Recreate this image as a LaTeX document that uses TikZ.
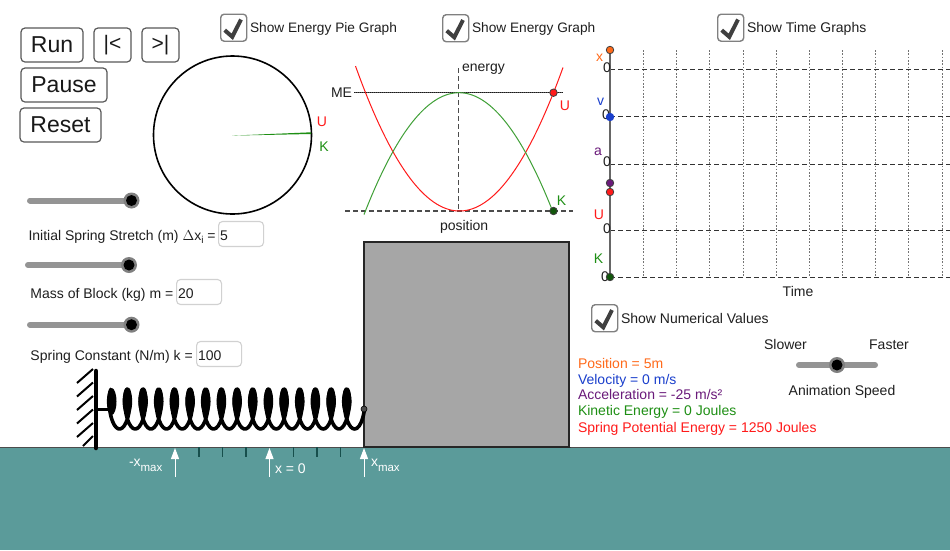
\documentclass[tikz,border=0pt]{standalone}
\usepackage{fontspec}
\setmainfont{Liberation Sans}
\usetikzlibrary{arrows.meta}
\definecolor{gnd}{HTML}{5B9B9A}
\definecolor{tickc}{HTML}{174F4C}
\definecolor{uRed}{HTML}{FF1A1A}
\definecolor{kGreen}{HTML}{1E8F14}
\definecolor{xOrange}{HTML}{FF6A1A}
\definecolor{vBlue}{HTML}{1A3FCC}
\definecolor{aPurple}{HTML}{6A1A7A}
\tikzset{
  txt/.style={inner sep=0pt,outer sep=0pt,text height=10pt,text depth=0pt,font=\fontsize{14}{16}\selectfont,text=black!88},
  lbl/.style={txt,anchor=west},
  btn/.style={draw=black!65,line width=1.2pt,rounded corners=4pt,inner sep=0pt,anchor=center,font=\fontsize{23}{26}\selectfont,text=black!90},
  chk/.style={draw=black!50,line width=1.4pt,rounded corners=3.5pt,fill=white,minimum width=26pt,minimum height=27pt,inner sep=0pt,anchor=north west},
  chkmark/.style={draw=black!75,line width=4pt,line join=miter},
  inbox/.style={draw=black!18,line width=1.1pt,rounded corners=4pt,minimum width=45pt,minimum height=25pt,inner sep=0pt,anchor=west},
  track/.style={draw=black!42,line width=6pt,line cap=round},
  knobh/.style={circle,fill=black!50,minimum size=16pt,inner sep=0pt},
  knob/.style={circle,fill=black,minimum size=11pt,inner sep=0pt},
  dotn/.style={circle,draw=black!75,line width=.8pt,minimum size=7.5pt,inner sep=0pt},
  dashl/.style={draw=black!80,line width=1pt,dash pattern=on 5pt off 3pt},
  dotl/.style={draw=black!55,line width=1pt,dash pattern=on 1.6pt off 1.7pt},
  arrw/.style={draw=white,line width=1pt,-{Triangle[length=11pt,width=8pt]}},
  val/.style={lbl},
  tk/.style={draw=tickc,line width=1.1pt},
  nar/.style={font=\fontsize{13.7}{16}\selectfont},
}
\newcommand{\checkmk}[2]{%
  \draw[chkmark] (#1+4.7,#2+16.7) -- (#1+12.3,#2+23.3) -- (#1+21,#2+6);}
\newcommand{\smax}{\raisebox{-5pt}{\fontsize{11.5}{12}\selectfont max}}
\begin{document}
\begin{tikzpicture}[x=1pt,y=-1pt]
\useasboundingbox (0,0) rectangle (950,550);
\fill[white] (0,0) rectangle (950,550);
% ground
\fill[gnd] (0,447) rectangle (950,550);
\draw[black!70,line width=.8pt] (0,447) -- (950,447);
% buttons
\node[btn,minimum width=62pt,minimum height=34pt] (run) at (52,45) {Run};
\node[btn,minimum width=37pt,minimum height=34pt,font=\fontsize{21}{24}\selectfont] (prev) at (112.5,45) {|<};
\node[btn,minimum width=37pt,minimum height=34pt,font=\fontsize{21}{24}\selectfont] (next) at (160.5,45) {>|};
\node[btn,minimum width=86pt,minimum height=34pt] (pause) at (64,85) {Pause};
\node[btn,minimum width=81pt,minimum height=34pt] (reset) at (60.5,125) {Reset};
% checkboxes
\node[chk] (c1) at (220,13.5) {}; \checkmk{220}{13.5}
\node[lbl,nar] (c1t) at (250,27) {Show Energy Pie Graph};
\node[chk] (c2) at (442,14) {}; \checkmk{442}{14}
\node[lbl,nar] (c2t) at (472,27.7) {Show Energy Graph};
\node[chk] (c3) at (717,13.5) {}; \checkmk{717}{13.5}
\node[lbl] (c3t) at (747,27) {Show Time Graphs};
\node[chk] (c4) at (591,304) {}; \checkmk{591}{304}
\node[lbl] (c4t) at (621,318) {Show Numerical Values};
% pie
\node[circle,draw=black,line width=1.6pt,minimum size=158pt,inner sep=0pt] (pie) at (232.5,135) {};
\fill[kGreen] (232,135.6) -- (311,132.3) -- (311,134) -- cycle;
\node[txt,text=uRed] (pieU) at (322,121.7) {U};
\node[txt,text=kGreen] (pieK) at (324,146.7) {K};
% sliders
\draw[track] (30,200.5) -- (131.5,200.5);
\node[knobh] (s1h) at (131.5,200.5) {}; \node[knob] (s1) at (131.5,200.5) {};
\draw[track] (28,265) -- (129,265);
\node[knobh] (s2h) at (129,265) {}; \node[knob] (s2) at (129,265) {};
\draw[track] (30,324.7) -- (131.5,324.7);
\node[knobh] (s3h) at (131.5,324.7) {}; \node[knob] (s3) at (131.5,324.7) {};
\draw[track] (799,365) -- (875,365);
\node[knobh] (s4h) at (837,365) {}; \node[knob] (s4) at (837,365) {};
% inputs
\node[lbl] (l1) at (28.5,235.7) {Initial Spring Stretch (m) $\Delta$x\raisebox{-3pt}{\fontsize{10}{10}\selectfont i} =};
\node[inbox] (b1) at (218,234) {}; \node[lbl] (b1t) at (220,235.7) {5};
\node[lbl] (l2) at (30.5,293) {Mass of Block (kg) m =};
\node[inbox] (b2) at (176,292) {}; \node[lbl] (b2t) at (178,293) {20};
\node[lbl] (l3) at (30.5,355) {Spring Constant (N/m) k =};
\node[inbox] (b3) at (196,354) {}; \node[lbl] (b3t) at (198,355) {100};
% energy graph
\draw[dashl,black!70,line width=1.1pt] (458.7,68) -- (458.7,211);
\draw[dashl,black!70,line width=1.1pt] (345,211) -- (573,211);
\draw[black!65,line width=1.1pt] (354,92.7) -- (563,92.7);
\draw[black!90,line width=.8pt,dash pattern=on 1pt off 1pt] (354,92.7) -- (563,92.7);
\draw[uRed,line width=1pt] plot[domain=355.5:563,samples=70] (\x,{211-0.0134*(\x-459.5)*(\x-459.5)});
\draw[kGreen!85!white,line width=1pt] plot[domain=364:553,samples=70] (\x,{92.7+0.0135*(\x-459)*(\x-459)});
\node[dotn,fill=uRed] (eU) at (553.5,92.7) {};
\node[dotn,fill=kGreen!60!black] (eK) at (553.5,211) {};
\node[txt,text=uRed] (eUt) at (565,105) {U};
\node[txt,text=kGreen] (eKt) at (561.5,200) {K};
\node[lbl] (en) at (462,66) {energy};
\node[lbl] (me) at (331,92) {ME};
\node[lbl] (po) at (440,225) {position};
% block
\draw[black!85,line width=2pt,fill=black!35] (364,242) rectangle (569,447);
\draw[black!85,line width=1.4pt,line cap=round] (364,447.5) -- (570,447.5);
% wall
\foreach \yy in {377,390.5,404,417.5,431}{
  \draw[black,line width=2pt] (77,\yy+6) -- (93,\yy-8);
}
\draw[black,line width=2pt] (83,446) -- (93,436);
\draw[black,line width=4.5pt,line cap=round] (96,371) -- (96,448);
\draw[black,line width=3pt] (96,409) -- (110,409);
% spring
\draw[black,line width=3.6pt,line join=round] plot[domain=0:15.75,samples=400,smooth]
  ({111.7+15.67*\x-6*sin(360*\x)},{409-20*cos(360*\x)});
\foreach \i in {0,...,15}{
  \fill[black] ({111.7+15.67*\i},401.5) ellipse [x radius=4.8pt,y radius=13.5pt];
}
\node[circle,fill=black!70,draw=black,line width=.6pt,minimum size=6pt,inner sep=0pt] (att) at (364,409) {};
% ticks
\foreach \xx in {199,222.7,246,293.3,317,340.7}{\draw[tk] (\xx,447) -- (\xx,457);}
% arrows
\coordinate (a1s) at (175,477); \coordinate (a1e) at (175,448);
\coordinate (a2s) at (269.5,477); \coordinate (a2e) at (269.5,448);
\coordinate (a3s) at (364,477); \coordinate (a3e) at (364,448);
\draw[arrw] (a1s) -- (a1e);
\draw[arrw] (a2s) -- (a2e);
\draw[arrw] (a3s) -- (a3e);
\node[lbl,text=white] (xm) at (129,461.5) {-x\smax};
\node[lbl,text=white] (x0) at (275,468.5) {x = 0};
\node[lbl,text=white] (xp) at (371,461.5) {x\smax};
% time graphs
\foreach \xx in {643.3,676.7,709.7,743,776,809,842.7,875.3,908.7,942}{
  \draw[dotl] (\xx,50) -- (\xx,277);
}
\foreach \yy in {69.3,116.7,164,230,277}{
  \draw[dashl] (610,\yy) -- (950,\yy);
}
\draw[black!60,line width=1.3pt] (610,50) -- (610,277);
\node[txt,anchor=east] (z1) at (611,67.7) {0};
\node[txt,anchor=east] (z2) at (610,114) {0};
\node[txt,anchor=east] (z3) at (611,161.7) {0};
\node[txt,anchor=east] (z4) at (611,228) {0};
\node[txt,anchor=east] (z5) at (609,276) {0};
\node[dotn,fill=xOrange] (dx) at (610,50) {};
\node[dotn,fill=vBlue,draw=vBlue] (dv) at (610,117) {};
\node[dotn,fill=aPurple] (da) at (610,183) {};
\node[dotn,fill=uRed] (dU) at (610,192) {};
\node[dotn,fill=kGreen!60!black] (dK) at (610,277) {};
\node[txt,text=xOrange] (tx) at (599.5,56) {x};
\node[txt,text=vBlue] (tv) at (600.5,100) {v};
\node[txt,text=aPurple] (ta) at (598,150) {a};
\node[txt,text=uRed] (tU) at (599,214) {U};
\node[txt,text=kGreen] (tK) at (598.5,258) {K};
\node[txt] (tT) at (798,291) {Time};
% numerical values
\node[val,text=xOrange] (n1) at (578,363) {Position = 5m};
\node[val,text=vBlue] (n2) at (578,379) {Velocity = 0 m/s};
\node[val,text=aPurple] (n3) at (578,394) {Acceleration = -25 m/s²};
\node[val,text=kGreen] (n4) at (578,410) {Kinetic Energy = 0 Joules};
\node[val,text=uRed] (n5) at (578,427) {Spring Potential Energy = 1250 Joules};
\node[txt] (sl) at (785.5,344) {Slower};
\node[txt] (fa) at (889,344) {Faster};
\node[txt] (as) at (842,390.7) {Animation Speed};
\end{tikzpicture}
\end{document}
